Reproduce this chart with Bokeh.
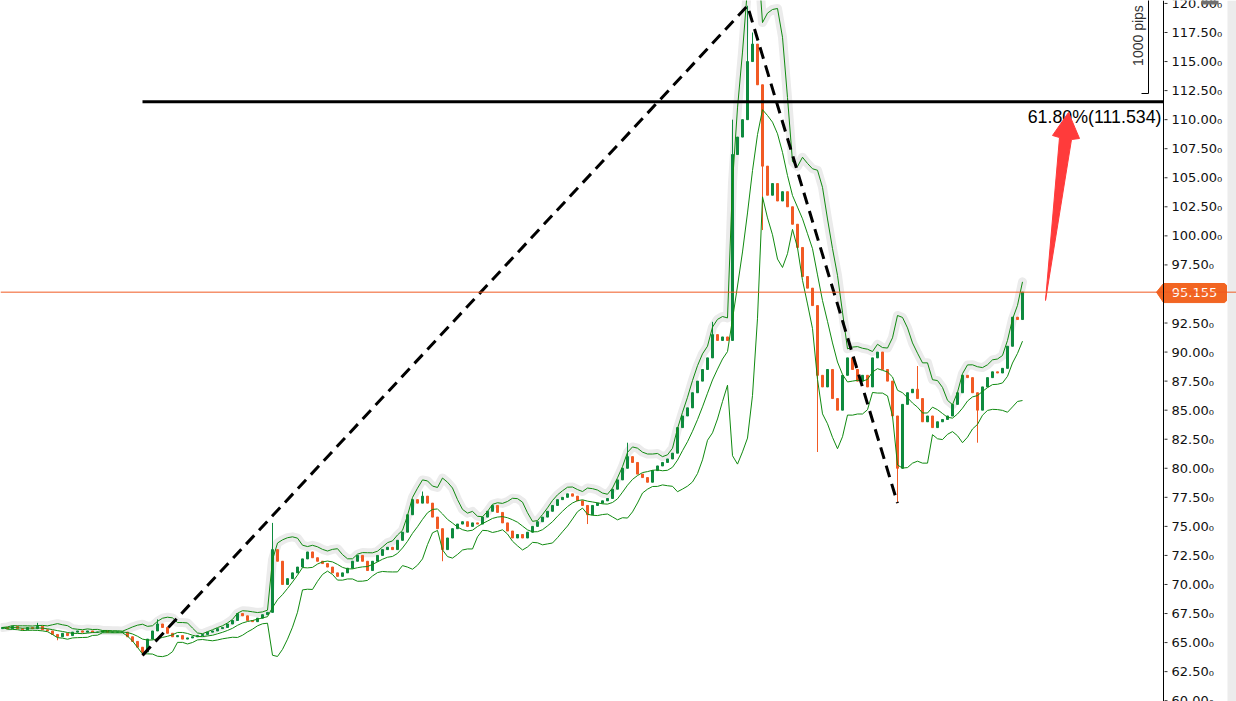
import math
import pandas as pd
from bokeh.plotting import figure
from bokeh.models import Range1d, Span
from bokeh.core.properties import value
from bokeh.embed import file_html
from bokeh.resources import INLINE

# ---------------- data ----------------
closes = [
    66.3, 66.2, 66.4, 66.2, 66.1, 66.3, 66.2, 66.4, 66.1, 66.0,
    65.7, 65.5, 65.8, 65.6, 65.9, 66.0, 65.9, 66.0, 65.9, 65.9,
    66.0, 65.9, 65.9, 65.9, 65.9, 65.5, 65.1, 64.6, 64.2, 65.3,
    66.0, 66.6, 66.3, 65.8, 65.5, 65.6, 65.3, 65.4, 65.5, 65.6,
    65.7, 65.9, 66.0, 66.2, 66.3, 66.6, 66.9, 67.5, 67.3, 66.9,
    66.8, 67.1, 67.4, 67.6, 73.0, 72.0, 70.0, 70.5, 71.0, 71.5,
    72.2, 72.8, 72.3, 72.0, 71.8, 71.5, 71.0, 70.7, 71.0, 71.4,
    72.0, 72.5, 72.0, 71.2, 72.0, 72.5, 73.0, 73.2, 73.0, 73.8,
    74.5, 76.0, 77.3, 77.0, 77.6, 77.0, 75.8, 74.8, 73.0, 74.0,
    74.8, 75.2, 75.4, 75.0, 75.3, 75.2, 75.8, 76.3, 76.8, 76.2,
    75.3, 74.6, 74.0, 74.3, 74.0, 74.5, 75.0, 75.4, 75.8, 76.3,
    76.8, 77.3, 77.5, 77.8, 77.6, 77.2, 76.8, 76.0, 76.8, 77.0,
    77.2, 77.4, 78.2, 79.0, 80.0, 81.0, 80.5, 79.5, 79.2, 78.8,
    79.8, 80.2, 80.5, 80.8, 81.3, 83.5, 84.5, 85.2, 86.5, 87.5,
    88.5, 89.5, 91.5, 91.0, 91.3, 91.0, 107.0, 108.5, 110.0, 115.0,
    116.5, 113.0, 106.0, 103.5, 104.5, 103.0, 103.8, 102.5, 101.0, 99.0,
    96.5, 95.5, 94.0, 88.0, 87.0, 88.5, 86.0, 85.0, 88.0, 89.5,
    88.5, 87.5, 88.0, 87.0, 89.5, 90.0, 88.5, 87.5, 84.5, 80.0,
    85.5, 86.5, 86.8, 86.0, 84.0, 84.5, 83.5, 84.0, 84.2, 84.5,
    85.5, 86.5, 88.0, 87.8, 86.5, 85.0, 87.0, 87.8, 88.3, 88.2,
    88.6, 90.5, 93.0, 92.8, 95.155,
]
first_open = 66.2
spike_high = {7: 66.7, 31: 67.0, 54: 75.3, 84: 78.0, 125: 82.2, 142: 92.6,
              146: 110.0, 149: 119.8, 150: 117.5, 183: 88.8}
spike_low = {11: 65.2, 28: 63.9, 88: 72.0, 117: 75.2, 146: 91.0, 152: 100.5,
             163: 81.4, 179: 77.0, 195: 82.2}

swing_idx = [28, 149, 179]          # zig-zag: low, high, low
tick_prices = [60.0 + 2.5 * k for k in range(25)]
fib_level = 111.534
fib_label = "61.80%(111.534)"
last_price = 95.155
ruler_label = "1000 pips"
ruler_base = 112.25

# ---------------- derived ----------------
n = len(closes)
xs = [2 + 5 * i for i in range(n)]
opens = [first_open] + closes[:-1]
highs = [max(o, c) for o, c in zip(opens, closes)]
lows = [min(o, c) for o, c in zip(opens, closes)]
for k, v in spike_high.items():
    highs[k] = v
for k, v in spike_low.items():
    lows[k] = v

s = pd.Series(closes)
win = 7
mid = s.rolling(win, min_periods=1).mean()
sd = s.rolling(win, min_periods=1).std(ddof=0).fillna(0)
upper = (mid + 2 * sd).tolist()
lower = (mid - 2 * sd).tolist()
mid = mid.tolist()

UP = "#0e8a3e"
DOWN = "#f15a24"
BAND = "#108a10"
colors = [UP if c >= o else DOWN for o, c in zip(opens, closes)]
tops = [max(o, c) for o, c in zip(opens, closes)]
bots = [min(o, c) for o, c in zip(opens, closes)]

Y_TOP = 120.254
Y_BOT = 59.93
AXIS_X = 1163

p = figure(width=1236, height=701, x_range=Range1d(0, 1236), y_range=Range1d(Y_BOT, Y_TOP),
           output_backend="svg", toolbar_location=None,
           x_axis_location=None, y_axis_location=None,
           min_border=0, min_border_left=0, min_border_right=0,
           min_border_top=0, min_border_bottom=0)
p.grid.visible = False
p.outline_line_color = None
p.background_fill_color = "white"
p.border_fill_color = "white"

# right scroll strip
p.quad(left=1227, right=1236, bottom=Y_BOT, top=Y_TOP, fill_color="#ececec", line_color=None)

# halo of upper band
p.line(xs, upper, line_color="#ebebeb", line_width=9, line_join="round", line_cap="round")

# candles
p.segment(x0=xs, y0=highs, x1=xs, y1=lows, line_color=colors, line_width=1)
p.vbar(x=xs, width=2, top=tops, bottom=bots, fill_color=colors, line_color=colors, line_width=1)

# bands
p.line(xs, upper, line_color=BAND, line_width=1)
p.line(xs, mid, line_color=BAND, line_width=1)
p.line(xs, lower, line_color=BAND, line_width=1)

# current price line
p.add_layout(Span(location=last_price, dimension="width", line_color="#f05a22", line_width=1))

# zig-zag dashed lines
zx = [xs[swing_idx[0]], xs[swing_idx[1]], xs[swing_idx[2]]]
zy = [lows[swing_idx[0]], highs[swing_idx[1]], lows[swing_idx[2]]]
p.line(zx, zy, line_color="black", line_width=3, line_dash="12 7")

# fib level line + label
p.segment(x0=[xs[swing_idx[0]]], y0=[fib_level], x1=[AXIS_X], y1=[fib_level], line_color="black", line_width=3)
p.text(x=[1161], y=[110.19], text=[fib_label], text_font=value("Liberation Sans"),
       text_font_size="17.8px", text_align="right", text_baseline="alphabetic", text_color="black")

# red arrow
arrow_x = [1045, 1071, 1079, 1068, 1052, 1059]
arrow_y = [94.44, 108.29, 108.38, 110.62, 108.64, 108.46]
p.patch(arrow_x, arrow_y, fill_color="#ff3b3b", line_color="#ff3b3b", line_width=1)

# pips ruler
p.line([1141, 1148, 1148], [ruler_base, ruler_base, Y_TOP + 1], line_color="black", line_width=1)
p.text(x=[1137], y=[117.24], text=[ruler_label], angle=math.pi / 2, text_font=value("Liberation Sans"),
       text_font_size="14px", text_align="center", text_baseline="middle", text_color="#333333")

# right price axis
p.add_layout(Span(location=AXIS_X, dimension="height", line_color="black", line_width=1))
p.segment(x0=[AXIS_X + 1] * len(tick_prices), y0=tick_prices, x1=[AXIS_X + 4] * len(tick_prices),
          y1=tick_prices, line_color="#333333", line_width=1)
p.text(x=[1171] * len(tick_prices), y=tick_prices, text=[f"{t:.2f}\u2080" for t in tick_prices],
       text_font=value("DejaVu Sans"), text_font_size="13px", text_align="left",
       text_baseline="middle", text_color="#111111")

# price tag
tag_x = [1156, 1163, 1224, 1226, 1226, 1224, 1163]
tag_y = [last_price, 95.90, 95.90, 95.75, 94.41, 94.26, 94.26]
p.patch(tag_x, tag_y, fill_color="#f26522", line_color="#f26522")
p.text(x=[1194], y=[last_price], text=[f"{last_price:.3f}"], text_font=value("DejaVu Sans"),
       text_font_size="13px", text_align="center", text_baseline="middle", text_color="white")

# small dark handle at the top right
p.quad(left=1201, right=1218, bottom=Y_TOP - 4 / 11.62, top=Y_TOP, fill_color="#707070", line_color=None)

open("out.html", "w").write(file_html(p, INLINE))
